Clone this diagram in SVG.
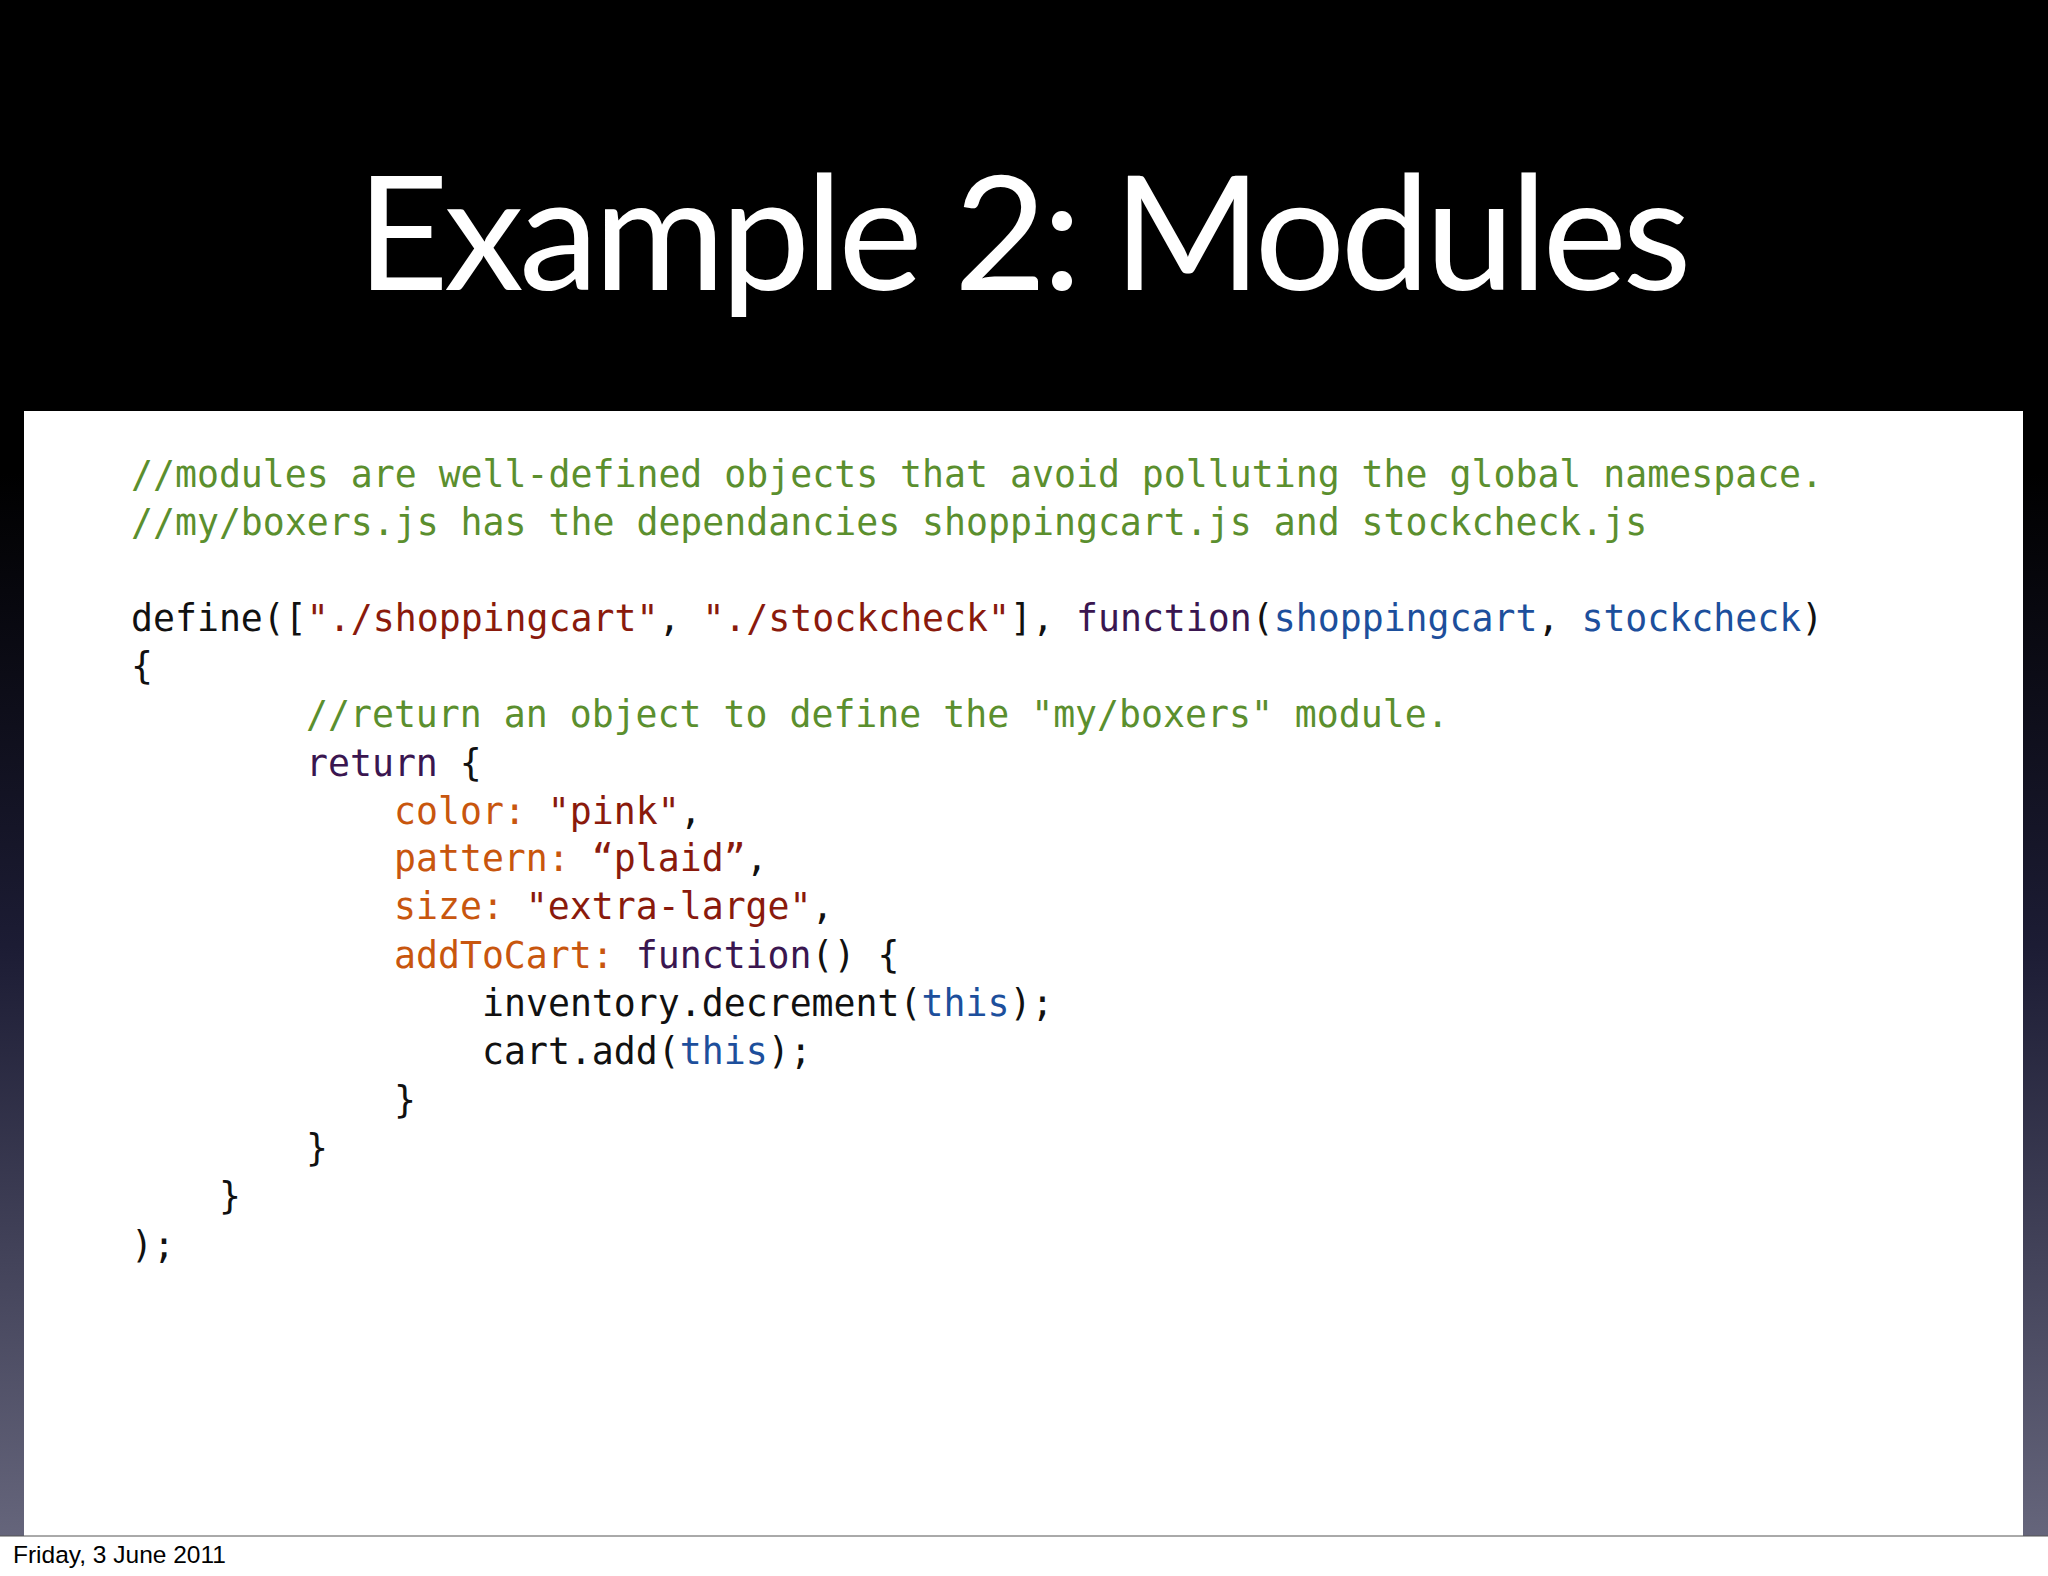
<svg xmlns="http://www.w3.org/2000/svg" width="2048" height="1576" viewBox="0 0 2048 1576">
<defs>
<linearGradient id="bg" x1="0" y1="0" x2="0" y2="1">
<stop offset="0" stop-color="#000"/><stop offset="0.3" stop-color="#000"/><stop offset="0.6" stop-color="#1c1c34"/><stop offset="1" stop-color="#6a6a80"/>
</linearGradient>
<style>
.c{font-family:"DejaVu Sans Mono","Liberation Mono",monospace;font-size:36.5px;fill:#111;white-space:pre}
.cm{fill:#5b8f2e}.s{fill:#8a1a0c}.k{fill:#3a1650}.p{fill:#1d4f9c}.o{fill:#c8560e}
</style>
</defs>
<rect width="2048" height="1576" fill="url(#bg)"/>
<rect x="24" y="411" width="1999" height="1125" fill="#fff"/>
<rect x="0" y="1536" width="2048" height="40" fill="#fff"/>
<line x1="0" y1="1536" x2="2048" y2="1536" stroke="#555" stroke-width="1"/>
<text x="1024" y="290" text-anchor="middle" font-family="Lato,'Open Sans',sans-serif" font-size="160" fill="#fff" textLength="1335">Example 2: Modules</text>
<g id="code">
<text x="131" y="487" class="c cm">//modules are well-defined objects that avoid polluting the global namespace.</text>
<text x="131" y="535" class="c cm">//my/boxers.js has the dependancies shoppingcart.js and stockcheck.js</text>
<text x="131" y="631" class="c">define([<tspan class="s">"./shoppingcart"</tspan>, <tspan class="s">"./stockcheck"</tspan>], <tspan class="k">function</tspan>(<tspan class="p">shoppingcart</tspan>, <tspan class="p">stockcheck</tspan>)</text>
<text x="131" y="679" class="c">{</text>
<text x="306" y="727" class="c cm">//return an object to define the "my/boxers" module.</text>
<text x="306" y="776" class="c"><tspan class="k">return</tspan> {</text>
<text x="394" y="824" class="c"><tspan class="o">color:</tspan> <tspan class="s">"pink"</tspan>,</text>
<text x="394" y="871" class="c"><tspan class="o">pattern:</tspan> <tspan class="s">“plaid”</tspan>,</text>
<text x="394" y="919" class="c"><tspan class="o">size:</tspan> <tspan class="s">"extra-large"</tspan>,</text>
<text x="394" y="968" class="c"><tspan class="o">addToCart:</tspan> <tspan class="k">function</tspan>() {</text>
<text x="482" y="1016" class="c">inventory.decrement(<tspan class="p">this</tspan>);</text>
<text x="482" y="1064" class="c">cart.add(<tspan class="p">this</tspan>);</text>
<text x="394" y="1113" class="c">}</text>
<text x="306" y="1161" class="c">}</text>
<text x="219" y="1209" class="c">}</text>
<text x="131" y="1258" class="c">);</text>
</g>
<text x="13" y="1563" font-family="'Liberation Sans',Arial,sans-serif" font-size="24.5" fill="#000">Friday, 3 June 2011</text>
</svg>
